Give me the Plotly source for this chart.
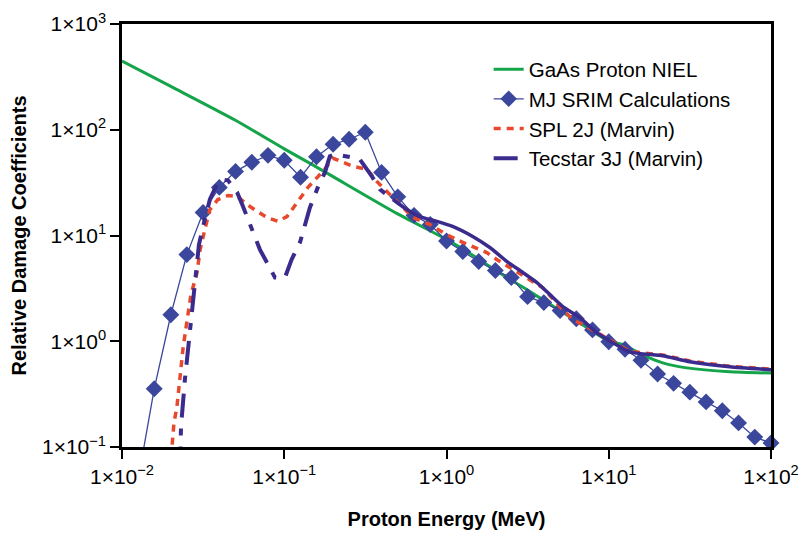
import plotly.graph_objects as go

# GaAs proton NIEL (relative), energy in MeV
niel_energy = [0.01, 0.02, 0.05, 0.1, 0.148, 0.2, 0.5, 1.0, 1.5, 2.0, 3.0, 5.0, 7.0,
               10.0, 12.2, 17.2, 21.5, 30.3, 55.7, 100.0]
niel_value = [447, 257, 123, 66, 47, 36, 16, 9.2, 6.3, 4.7, 3.2, 1.95, 1.41,
              1.0, 0.93, 0.71, 0.625, 0.56, 0.514, 0.50]

# Multijunction SRIM calculations
mj_energy = [0.0126, 0.0158, 0.02, 0.0251, 0.0316, 0.0398, 0.0501, 0.0631, 0.0794, 0.1,
             0.126, 0.158, 0.2, 0.251, 0.316, 0.398, 0.501, 0.631, 0.794, 1.0,
             1.26, 1.58, 2.0, 2.51, 3.16, 3.98, 5.01, 6.31, 7.94, 10.0,
             12.6, 15.8, 20.0, 25.1, 31.6, 39.8, 50.1, 63.1, 79.4, 100.0]
mj_value = [0.05, 0.355, 1.78, 6.6, 16.5, 28.5, 40.4, 49.2, 57.3, 51.4,
            35.5, 55.5, 72.9, 81.3, 94.7, 39.5, 23.2, 15.5, 12.7, 8.87,
            7.05, 5.67, 4.66, 4.0, 2.64, 2.32, 1.95, 1.63, 1.28, 0.99,
            0.84, 0.66, 0.49, 0.40, 0.33, 0.267, 0.22, 0.169, 0.124, 0.109]

# SPL 2J cell (Marvin)
spl_energy = [0.0198, 0.0203, 0.0209, 0.0218, 0.0224, 0.0231, 0.0238, 0.0248, 0.0255, 0.0266,
              0.029, 0.0303, 0.0324, 0.0348, 0.039, 0.045, 0.0512, 0.0615, 0.0782, 0.0914,
              0.104, 0.12, 0.14, 0.173, 0.2, 0.265, 0.324, 0.372, 0.43, 0.494,
              0.621, 0.789, 1.0, 1.26, 1.77, 2.05, 3.13, 3.93, 5.0, 6.01,
              7.33, 10.2, 13.5, 21.5, 31.6, 55.7, 100.0]
spl_value = [0.06, 0.1, 0.169, 0.239, 0.362, 0.573, 0.867, 1.34, 1.86, 2.76,
             4.45, 7.36, 11.4, 17.6, 21.9, 23.9, 23.4, 18.8, 14.8, 13.6,
             15.1, 20.6, 28.5, 40.4, 53.7, 45.1, 42.2, 32.5, 26.1, 21.0,
             14.8, 12.7, 10.2, 8.6, 6.9, 5.9, 4.0, 3.2, 2.12, 1.6,
             1.37, 1.03, 0.80, 0.74, 0.65, 0.58, 0.545]

# Tecstar 3J cell (Marvin); dashed below ~0.47 MeV, continuous above
tec_energy = [0.0228, 0.0231, 0.0244, 0.0255, 0.0266, 0.0274, 0.0286, 0.0298, 0.0316, 0.0348,
              0.0379, 0.0407, 0.045, 0.0512, 0.0557, 0.0641, 0.0708, 0.0782, 0.0877, 0.101,
              0.111, 0.125, 0.134, 0.144, 0.161, 0.178, 0.191, 0.205, 0.261, 0.292,
              0.347, 0.389, 0.468]
tec_value = [0.06, 0.155, 0.43, 0.83, 1.6, 2.47, 4.56, 8.2, 12.2, 21.9,
             29.1, 34.0, 33.2, 25.6, 18.8, 10.7, 7.36, 5.55, 4.0, 4.0,
             5.93, 8.6, 12.2, 18.4, 28.5, 39.5, 56.1, 58.6, 54.8, 52.5,
             36.2, 27.3, 21.9]
tec_hi_energy = [0.468, 0.570, 0.686, 0.873, 1.09, 1.45, 1.85, 2.36,
                 2.96, 3.61, 4.34, 5.21, 6.64, 8.45, 10.6, 13.5, 21.5, 31.6,
                 55.7, 100.0]
tec_hi_value = [21.9, 17.6, 15.1, 13.6, 12.2, 9.8, 7.7, 5.67,
                4.46, 3.59, 2.76, 2.12, 1.67, 1.2, 0.97, 0.79, 0.73, 0.64,
                0.573, 0.537]

x_tickvals = [0.01, 0.1, 1, 10, 100]
x_ticktext = ["1×10<sup>\u22122</sup>", "1×10<sup>\u22121</sup>", "1×10<sup>0</sup>",
              "1×10<sup>1</sup>", "1×10<sup>2</sup>"]
y_tickvals = [0.1, 1, 10, 100, 1000]
y_ticktext = ["1×10<sup>\u22121</sup>", "1×10<sup>0</sup>", "1×10<sup>1</sup>",
              "1×10<sup>2</sup>", "1×10<sup>3</sup>"]

FONT = "Liberation Sans, Arial, sans-serif"
GREEN = "#14A44A"
BLUE = "#3B479C"
RED = "#E8482C"
PURPLE = "#3A2B8C"

fig = go.Figure()

fig.add_trace(go.Scatter(
    x=niel_energy, y=niel_value, mode="lines", name="GaAs Proton NIEL",
    line=dict(color=GREEN, width=3, shape="spline", smoothing=0.6),
))

# first point lies below the axis range; give it no visible marker
mj_sizes = [0] + [13] * (len(mj_energy) - 1)
fig.add_trace(go.Scatter(
    x=mj_energy, y=mj_value, mode="lines+markers", name="MJ SRIM Calculations",
    line=dict(color=BLUE, width=1.3),
    marker=dict(symbol="diamond", size=mj_sizes, color=BLUE, opacity=1,
                line=dict(width=0)),
    cliponaxis=False,
))

fig.add_trace(go.Scatter(
    x=spl_energy, y=spl_value, mode="lines", name="SPL 2J (Marvin)",
    line=dict(color=RED, width=3.5, dash="7px,6px"),
))

fig.add_trace(go.Scatter(
    x=tec_energy, y=tec_value, mode="lines", name="Tecstar 3J (Marvin)",
    legendgroup="tec",
    line=dict(color=PURPLE, width=4, dash="24px,11px,7px,11px"),
))
fig.add_trace(go.Scatter(
    x=tec_hi_energy, y=tec_hi_value, mode="lines", name="Tecstar 3J (Marvin)",
    legendgroup="tec", showlegend=False,
    line=dict(color=PURPLE, width=3.5, shape="spline", smoothing=0.5),
))

axis_common = dict(
    type="log",
    showgrid=False,
    zeroline=False,
    showline=True,
    linecolor="black",
    linewidth=2.5,
    mirror=True,
    ticks="outside",
    ticklen=9,
    tickwidth=2,
    tickcolor="black",
    automargin=False,
    tickfont=dict(family=FONT, size=21, color="black"),
)

fig.update_layout(
    width=802, height=536,
    margin=dict(l=122, r=31, t=24, b=89),
    paper_bgcolor="white",
    plot_bgcolor="white",
    xaxis=dict(axis_common, range=[-2, 2], tickvals=x_tickvals, ticktext=x_ticktext,
               title=dict(text="<b>Proton Energy (MeV)</b>",
                          font=dict(family=FONT, size=20, color="black"), standoff=26)),
    yaxis=dict(axis_common, range=[-1, 3], tickvals=y_tickvals, ticktext=y_ticktext,
               title=dict(text="<b>Relative Damage Coefficients</b>",
                          font=dict(family=FONT, size=20, color="black"), standoff=10)),
    legend=dict(
        x=0.565, y=0.94, xanchor="left", yanchor="top",
        bgcolor="rgba(0,0,0,0)",
        font=dict(family=FONT, size=20.5, color="black"),
        itemwidth=30,
        tracegroupgap=0,
    ),
    showlegend=True,
)

fig.write_html("out.html")
